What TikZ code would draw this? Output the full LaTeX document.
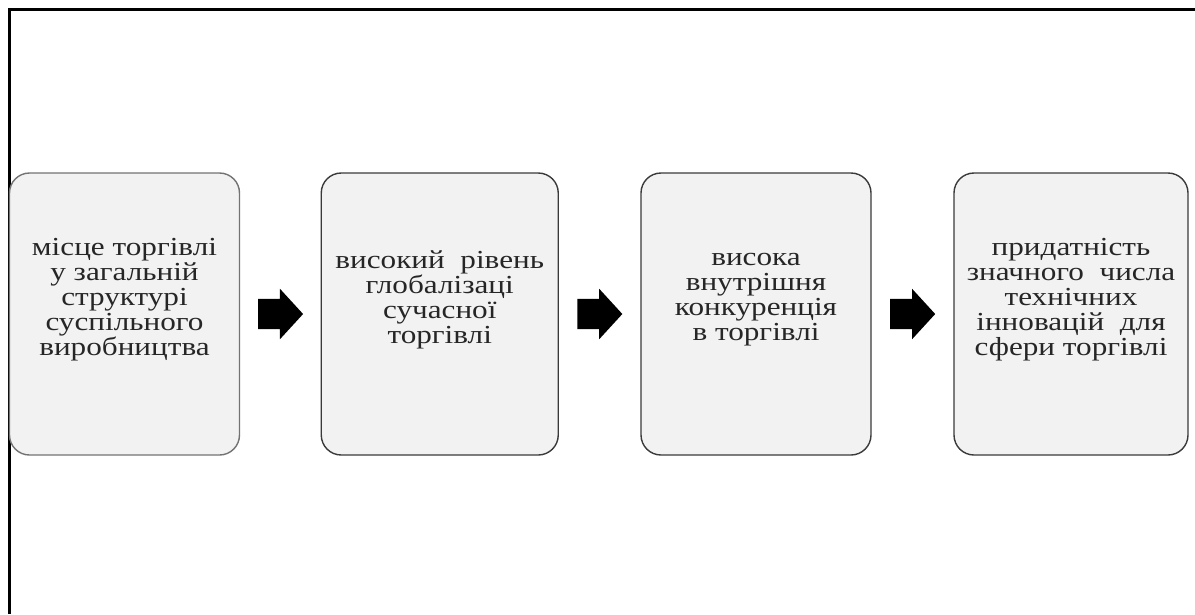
\documentclass[tikz,border=0pt]{standalone}
\usepackage{fontspec}
\setmainfont{Liberation Serif}
\newfontfamily\stagefont[FakeStretch=1.2]{Liberation Serif}
\usetikzlibrary{positioning, shapes.arrows, calc}
\definecolor{boxfill}{HTML}{F2F2F2}
\definecolor{boxline}{HTML}{3A3A3A}

\begin{document}
\begin{tikzpicture}[
  x=1pt, y=-1pt,
  stage/.style={draw=boxline, fill=boxfill, rounded corners=20pt, line width=1.4pt,
              minimum width=230pt, minimum height=282pt, inner sep=0pt},
  stagetxt/.style={align=center, inner sep=0pt, text=black!85,
              font=\stagefont\fontsize{26}{25}\selectfont},
  blk/.style={single arrow, fill=black, draw=none, inner xsep=0pt, inner ysep=15pt,
              minimum height=45pt, anchor=tail, xshift=-22.5pt,
              single arrow head extend=10pt, single arrow tip angle=95}
]
  \useasboundingbox (0,0) rectangle (1195,614);

  % frame
  \draw[line width=3pt] (9,614) -- (9,9) -- (1195,9);

  % stages
  \node[stage, draw=black!55] (s1) at (124.5,314) {};
  \node[stage, minimum width=237pt] (s2) at (439.75,314) {};
  \node[stage] (s3) at (756,314) {};
  \node[stage, minimum width=234pt] (s4) at (1071,314) {};

  \node[stagetxt] (t1) at ([yshift=14pt]s1.center)
    {місце торгівлі\\у загальній\\структурі\\суспільного\\виробництва};
  \node[stagetxt] (t2) at ([yshift=14pt]s2.center)
    {високий\ \ рівень\\глобалізаці\\сучасної\\торгівлі};
  \node[stagetxt] (t3) at ([yshift=14pt]s3.center)
    {висока\\внутрішня\\конкуренція\\в торгівлі};
  \node[stagetxt] (t4) at ([yshift=14pt]s4.center)
    {придатність\\значного\ \ числа\\технічних\\інновацій\ \ для\\сфери торгівлі};

  % arrows
  \node[blk] (a1) at ($(s1.east)!0.5!(s2.west)$) {};
  \node[blk] (a2) at ($(s2.east)!0.5!(s3.west)$) {};
  \node[blk] (a3) at ($(s3.east)!0.5!(s4.west)$) {};
\end{tikzpicture}
\end{document}
